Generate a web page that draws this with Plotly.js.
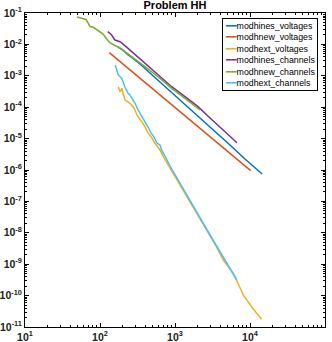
<!DOCTYPE html>
<html>
<head>
<meta charset="utf-8">
<script src="https://cdn.plot.ly/plotly-3.0.1.min.js"></script>
<style>
html,body{margin:0;padding:0;background:#fff;}
#plot{width:332px;height:342px;}
</style>
</head>
<body>
<div id="plot"></div>
<script>
// series
let names=["modhines_voltages","modhnew_voltages","modhext_voltages","modhines_channels","modhnew_channels","modhext_channels"];
let colors=["#0072BD","#D95319","#EDB120","#7E2F8E","#77AC30","#4DBEEE"];

let hinesVoltX=[174,203,229,251,293,341,398,464,541,631,736,858,1170,1580,2150,3410,5410,8580,14500];
let hinesVoltY=[0.00826,0.00664,0.00495,0.00428,0.00319,0.00238,0.00171,0.00123,0.000883,0.000635,0.000456,0.000328,0.000169,8.77e-5,4.53e-5,1.75e-5,6.25e-6,2.24e-6,7.47e-7];

let newVoltX=[133,341,858,2150,5410,10200];
let newVoltY=[0.00544,0.000832,0.000133,2.13e-5,3.38e-6,9.5e-7];

let extVoltX=[175,185,195,205,215,236,251,278,293,311,341,386,441,494,541,631,698,858,1060,1580,2650,3520,4410,5090,5990,6500,6980,7590,8150,9030,10500,12300,14300];
let extVoltY=[0.00045,0.000312,0.0004,0.000245,0.000169,0.000147,0.000133,0.000101,8.15e-5,5.65e-5,4.21e-5,2.71e-5,1.48e-5,1.04e-5,7.08e-6,4.34e-6,2.66e-6,1.16e-6,4.81e-7,9.57e-8,1.23e-8,3.8e-9,1.36e-9,8.77e-10,5.13e-10,3.38e-10,2.18e-10,1.51e-10,1.04e-10,7.24e-11,4.43e-11,2.73e-11,1.76e-11];

let hinesChanX=[127,143,158,185,215,265,321,398,593,903,1360,2030,2930,4500,6710];
let hinesChanY=[0.0254,0.0199,0.0138,0.0122,0.0091,0.00586,0.00397,0.0025,0.00106,0.00045,0.000216,0.000104,4.53e-5,1.75e-5,7.4e-6];

let newChanX=[49.4,54.1,59.3,65,69.2,73.6,80.7,88.5,100,110,120,136,154,174,215,265,321,398,593,903,1360,2150];
let newChanY=[0.0746,0.0693,0.0644,0.0621,0.0481,0.0372,0.0358,0.0309,0.0258,0.0214,0.016,0.0111,0.00957,0.00826,0.00586,0.00406,0.00296,0.00195,0.000935,0.0004,0.000192,8.15e-5];

let extChanX=[160,167,175,195,205,215,236,251,275,293,321,352,398,437,479,525,575,631,671,736,858,1060,1580,2360,3210,4640,6650];
let extChanY=[0.00221,0.00153,0.00106,0.000832,0.000577,0.00044,0.000283,0.000245,0.000169,0.000136,8.15e-5,5.65e-5,3.64e-5,2.34e-5,1.51e-5,1.12e-5,7.24e-6,6.25e-6,4.03e-6,2.79e-6,1.34e-6,5.56e-7,1.11e-7,2.05e-8,5.9e-9,1.36e-9,3.14e-10];

let xTickVals=[10,100,1000,10000,100000];
let xTickText=["10<sup>1</sup>","10<sup>2</sup>","10<sup>3</sup>","10<sup>4</sup>","10<sup>5</sup>"];
let yTickVals=[1e-11,1e-10,1e-9,1e-8,1e-7,1e-6,1e-5,1e-4,1e-3,1e-2,1e-1];
let yTickText=["10<sup>-11</sup>","10<sup>-10</sup>","10<sup>-9</sup>","10<sup>-8</sup>","10<sup>-7</sup>","10<sup>-6</sup>","10<sup>-5</sup>","10<sup>-4</sup>","10<sup>-3</sup>","10<sup>-2</sup>","10<sup>-1</sup>"];

let xs=[hinesVoltX,newVoltX,extVoltX,hinesChanX,newChanX,extChanX];
let ys=[hinesVoltY,newVoltY,extVoltY,hinesChanY,newChanY,extChanY];

let traces=[];
names.forEach((n,i)=>{
traces.push({
x:xs[i],
y:ys[i],
type:"scatter",
mode:"lines",
name:n,
line:{color:colors[i],width:1.5},
showlegend:false
});
});

// legend box as one annotation, built from names and colors
let legendText=names.map((n,i)=>
`<span style="color:${colors[i]};font-family:DejaVu Sans">━━</span>${n}`
).join("<br>");

let axisBase={
type:"log",
showline:true,
linecolor:"#000",
linewidth:1,
mirror:"ticks",
ticks:"inside",
ticklen:4,
tickcolor:"#000",
showgrid:false,
zeroline:false,
tickmode:"array",
tickfont:{family:"Liberation Sans, Arial, sans-serif",size:10.5,color:"#222",weight:"bold"},
minor:{ticks:"inside",ticklen:2,tickcolor:"#000",dtick:"D1",showgrid:false}
};

let layout={
width:332,
height:342,
margin:{l:25,r:7,t:13,b:15},
paper_bgcolor:"#fff",
plot_bgcolor:"#fff",
title:{
text:"<b>Problem HH</b>",
font:{family:"Liberation Sans, Arial, sans-serif",size:11,color:"#000"},
x:0.5,xref:"paper",
y:1,yref:"paper",yanchor:"bottom",
pad:{b:4}
},
xaxis:Object.assign({},axisBase,{
range:[1,5],
tickvals:xTickVals,
ticktext:xTickText
}),
yaxis:Object.assign({},axisBase,{
range:[-11,-1],
tickvals:yTickVals,
ticktext:yTickText
}),
annotations:[{
xref:"paper",yref:"paper",
x:0.977,y:0.983,
xanchor:"right",yanchor:"top",
showarrow:false,
align:"left",
text:legendText,
font:{family:"Liberation Sans, Arial, sans-serif",size:8.8,color:"#000"},
bgcolor:"#fff",
bordercolor:"#000",
borderwidth:1,
borderpad:2
}],
showlegend:false
};

Plotly.newPlot("plot",traces,layout,{displayModeBar:false,staticPlot:true});
</script>
</body>
</html>
